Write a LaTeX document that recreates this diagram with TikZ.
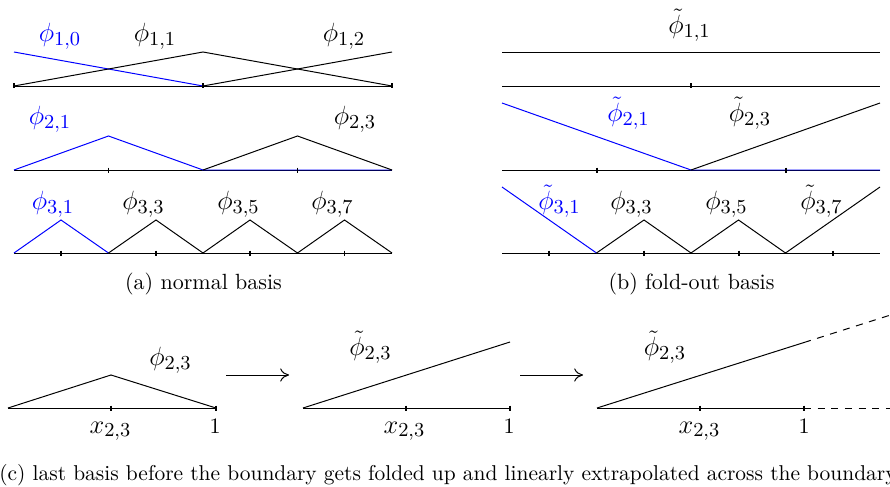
\documentclass[tikz,border=0pt]{standalone}
\usetikzlibrary{arrows.meta}
\begin{document}
\begin{tikzpicture}[x=0.4545pt,y=-0.4545pt,
  ln/.style={line width=0.45pt},
  bfn/.style={ln,draw=blue},
  tck/.style={line width=0.9pt},
  lbl/.style={inner sep=0pt,font=\fontsize{12.5}{15}\selectfont},
  onelbl/.style={inner sep=0pt,font=\normalsize,anchor=base},
  blbl/.style={lbl,text=blue},
  captxt/.style={inner sep=0pt,font=\normalsize},
  dsh/.style={ln,dashed,dash pattern=on 3.2pt off 3pt}]
\useasboundingbox (0,0) rectangle (890,486);
\newcommand{\tk}[2]{\draw[tck] (#1,#2-2.5) -- (#1,#2+2.5);}
% ===== (a) normal basis =====
% row 1
\draw[ln] (14,86) -- (392,86);
\draw[bfn] (14,52) -- (203,86);
\draw[ln] (14,86) -- (203,52) -- (392,86);
\draw[ln] (203,86) -- (392,52);
\tk{14}{86}\tk{203}{86}\tk{392}{86}
\node[blbl] (a10) at (60,36) {$\phi_{1,0}$};
\node[lbl] (a11) at (155,36) {$\phi_{1,1}$};
\node[lbl] (a12) at (344,36) {$\phi_{1,2}$};
% row 2
\draw[ln] (14,170) -- (392,170);
\draw[bfn] (14,170) -- (108.5,136) -- (203,170) -- (392,170);
\draw[ln] (203,170) -- (297.5,136) -- (392,170);
\tk{108.5}{170}\tk{297.5}{170}
\node[blbl] (a21) at (50,119.5) {$\phi_{2,1}$};
\node[lbl] (a23) at (355,119.5) {$\phi_{2,3}$};
% row 3
\draw[ln] (14,253) -- (392,253);
\draw[bfn] (14,253) -- (61,220) -- (108.5,253);
\draw[ln] (108.5,253) -- (156,220) -- (203,253) -- (250,220) -- (297.5,253) -- (344.5,220) -- (392,253);
\tk{61}{253}\tk{156}{253}\tk{250}{253}\tk{344.5}{253}
\node[blbl] (a31) at (53,204) {$\phi_{3,1}$};
\node[lbl] (a33) at (143.5,204) {$\phi_{3,3}$};
\node[lbl] (a35) at (238.5,204) {$\phi_{3,5}$};
\node[lbl] (a37) at (332.5,204) {$\phi_{3,7}$};
\node[captxt] (capa) at (203.5,284) {(a)\ normal basis};
% ===== (b) fold-out basis =====
% row 1
\draw[ln] (502,52) -- (880,52);
\draw[ln] (502,86) -- (880,86);
\tk{691}{86}
\node[lbl] (b11) at (689.5,25) {$\tilde{\phi}_{1,1}$};
% row 2
\draw[ln] (502,170) -- (880,170);
\draw[bfn] (502,103) -- (691,170) -- (880,170);
\draw[ln] (691,170) -- (880,103);
\tk{597}{170}\tk{786}{170}
\node[blbl] (b21) at (628.5,113.5) {$\tilde{\phi}_{2,1}$};
\node[lbl] (b23) at (750,113.5) {$\tilde{\phi}_{2,3}$};
% row 3
\draw[ln] (502,253) -- (880,253);
\draw[bfn] (502,187) -- (596.5,253);
\draw[ln] (596.5,253) -- (644,220) -- (691,253) -- (738.5,220) -- (785.5,253) -- (880,187);
\tk{549}{253}\tk{644}{253}\tk{738.5}{253}\tk{833}{253}
\node[blbl] (b31) at (559.5,201) {$\tilde{\phi}_{3,1}$};
\node[lbl] (b33) at (631.5,204) {$\phi_{3,3}$};
\node[lbl] (b35) at (726.5,204) {$\phi_{3,5}$};
\node[lbl] (b37) at (821.5,201) {$\tilde{\phi}_{3,7}$};
\node[captxt] (capb) at (691.5,284) {(b)\ fold-out basis};
% ===== (c) =====
% first
\draw[ln] (8,408) -- (216,408);
\draw[ln] (8,408) -- (111,375) -- (216,408);
\tk{111}{408}\tk{216}{408}
\node[lbl] (c1f) at (170.5,360) {$\phi_{2,3}$};
\node[lbl,anchor=base] (c1x) at (110.5,433) {$x_{2,3}$};
\node[onelbl] (c1o) at (215,433) {$1$};
\coordinate (ar1s) at (226,375);
\coordinate (ar1e) at (289,375);
\draw[ln,-{To[length=4pt,width=6pt]}] (ar1s) -- (ar1e);
% second
\draw[ln] (303,408) -- (510,408);
\draw[ln] (303,408) -- (510,342);
\tk{406}{408}\tk{510}{408}
\node[lbl] (c2f) at (370.5,347.5) {$\tilde{\phi}_{2,3}$};
\node[lbl,anchor=base] (c2x) at (404.5,433) {$x_{2,3}$};
\node[onelbl] (c2o) at (509,433) {$1$};
\coordinate (ar2s) at (520,375);
\coordinate (ar2e) at (583,375);
\draw[ln,-{To[length=4pt,width=6pt]}] (ar2s) -- (ar2e);
% third
\draw[ln] (597,408) -- (804,408);
\draw[ln] (597,408) -- (804,342.5);
\draw[dsh] (804,342.5) -- (900,312);
\draw[dsh] (804,408) -- (900,408);
\tk{700}{408}\tk{804}{408}
\node[lbl] (c3f) at (665,347.5) {$\tilde{\phi}_{2,3}$};
\node[lbl,anchor=base] (c3x) at (699.5,433) {$x_{2,3}$};
\node[onelbl] (c3o) at (804,433) {$1$};
\node[captxt,font=\fontsize{9.75}{12}\selectfont] (capc) at (448,475) {(c)\ last basis before the boundary gets folded up and linearly extrapolated across the boundary};
\end{tikzpicture}
\end{document}
